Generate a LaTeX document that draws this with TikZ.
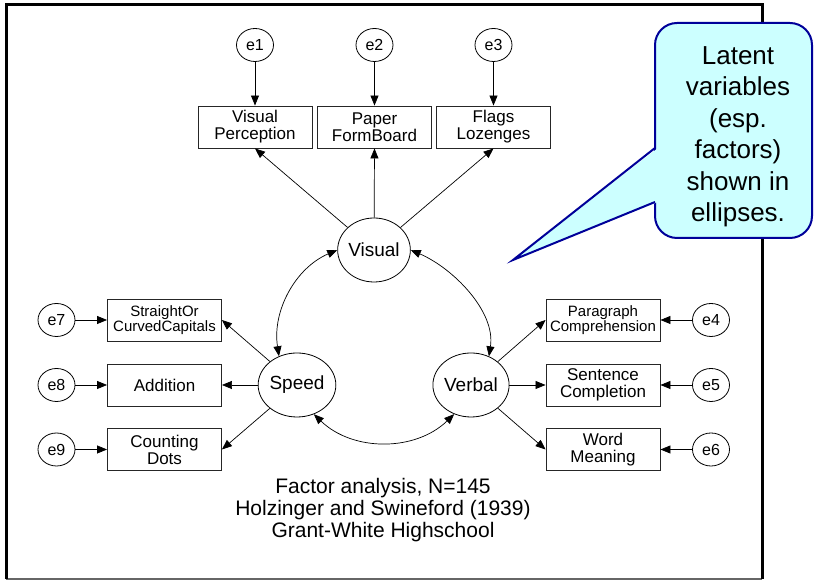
\documentclass[tikz,border=0pt]{standalone}
\usepackage{fontspec}
\setmainfont{Liberation Sans}
\usetikzlibrary{arrows.meta,shapes.geometric}
\definecolor{callfill}{HTML}{CCFFFF}
\definecolor{callline}{HTML}{000099}
\begin{document}
\begin{tikzpicture}[x=1pt,y=1pt,
  lat/.style={ellipse,draw,line width=0.8pt,minimum width=68pt,minimum height=64pt,inner sep=0pt,font=\fontsize{19}{19}\selectfont},
  err/.style={ellipse,draw,line width=0.8pt,minimum width=37pt,minimum height=33pt,inner sep=0pt,font=\fontsize{16}{16}\selectfont},
  obs/.style={rectangle,draw=black!85,line width=0.9pt,minimum width=114pt,minimum height=42pt,inner sep=0pt,align=center,font=\fontsize{17}{17}\selectfont},
  obssm/.style={obs,font=\fontsize{15}{15}\selectfont},
  tipx/.tip={Triangle[length=10pt,width=8pt]},
  arr/.style={-tipx,line width=0.7pt},
  cov/.style={tipx-tipx,line width=0.7pt},
  callbox/.style={draw=callline,fill=callfill,line width=2pt,rounded corners=22pt,minimum width=157pt,minimum height=215pt},
  calltext/.style={align=center,font=\fontsize{26}{31.5}\selectfont},
  capt/.style={align=center,font=\fontsize{21}{22}\selectfont}
]
\useasboundingbox (0,0) rectangle (815,580);
% frame
\draw[black!60,line width=2pt] (6,1) -- (762,1);
\draw[line width=3pt] (6,1) -- (6,575) -- (762,575) -- (762,1);

% error terms top
\node[err] (e1) at (255,535) {e1};
\node[err] (e2) at (374.5,535) {e2};
\node[err] (e3) at (493.5,535) {e3};
% top boxes
\node[obs] (VP) at (255,453) {Visual\\Perception};
\node[obs] (PF) at (374.5,453) {Paper\\FormBoard};
\node[obs] (FL) at (493.5,453) {Flags\\Lozenges};
% latent
\node[lat] (Visual) at (374,330) {Visual};
\node[lat] (Speed) at (297,195) {Speed};
\node[lat] (Verbal) at (471,195) {Verbal};
% left boxes
\node[obssm] (SC) at (164.5,260) {StraightOr\\CurvedCapitals};
\node[obs] (AD) at (164.5,195) {Addition};
\node[obs] (CD) at (164.5,130.5) {Counting\\Dots};
\node[err] (e7) at (56.5,260) {e7};
\node[err] (e8) at (56.5,195) {e8};
\node[err] (e9) at (56.5,130.5) {e9};
% right boxes
\node[obssm] (PC) at (603,260) {Paragraph\\Comprehension};
\node[obs] (SCm) at (603,195) {Sentence\\Completion};
\node[obs] (WM) at (603,130.5) {Word\\Meaning};
\node[err] (e4) at (711,260) {e4};
\node[err] (e5) at (711,195) {e5};
\node[err] (e6) at (711,130.5) {e6};

% caption
\node[capt] (cap) at (383,70) {Factor analysis, N=145\\Holzinger and Swineford (1939)\\Grant-White Highschool};

% arrows
\draw[arr] (e1) -- (VP);
\draw[arr] (e2) -- (PF);
\draw[arr] (e3) -- (FL);
\draw[arr] (Visual) -- (VP.south);
\draw[arr] (Visual) -- (PF.south);
\draw[arr] (Visual) -- (FL.south);
\draw[arr] (Speed) -- (SC.east);
\draw[arr] (Speed) -- (AD);
\draw[arr] (Speed) -- (CD.east);
\draw[arr] (Verbal) -- (PC.west);
\draw[arr] (Verbal) -- (SCm);
\draw[arr] (Verbal) -- (WM.west);
\draw[arr] (e7) -- (SC);
\draw[arr] (e8) -- (AD);
\draw[arr] (e9) -- (CD);
\draw[arr] (e4) -- (PC);
\draw[arr] (e5) -- (SCm);
\draw[arr] (e6) -- (WM);
% covariances
\draw[cov] (Visual.180) .. controls +(-42,-18) and +(-7,45) .. (Speed.122);
\draw[cov] (Visual.0) .. controls +(42,-18) and +(7,45) .. (Verbal.58);
\draw[cov] (Speed.-60) .. controls +(39,-37.6) and +(-39,-37.6) .. (Verbal.-120);

% callout
\node[callbox] (note) at (733.5,449.5) {};
\coordinate (tip) at (513,320);
\fill[callfill] (658,432) -- (tip) -- (658,378) -- cycle;
\draw[callline,line width=2pt,line join=miter] (655,432) -- (tip) -- (655,378);
\node[calltext] (notetext) at (738,443) {Latent\\variables\\(esp.\\factors)\\shown in\\ellipses.};
\end{tikzpicture}
\end{document}
